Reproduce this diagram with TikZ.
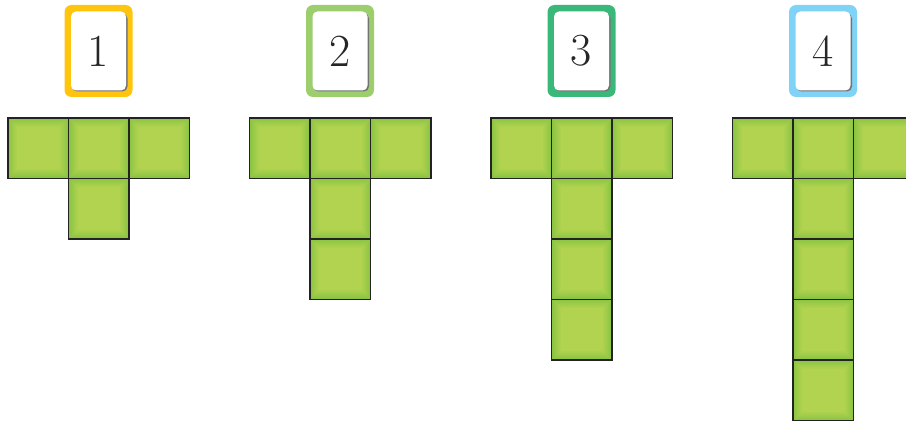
\documentclass[tikz,border=0pt]{standalone}
\usepackage{tikz}
\definecolor{sqedge}{RGB}{138,196,66}
\definecolor{sqmid}{RGB}{177,211,80}
\definecolor{cyellow}{RGB}{255,196,14}
\definecolor{clgreen}{RGB}{156,206,110}
\definecolor{cgreen}{RGB}{58,184,122}
\definecolor{cblue}{RGB}{126,211,246}
\definecolor{sqline}{RGB}{35,35,35}
\newcommand{\tsq}[2]{%
  \fill[sqedge] (#1,#2) rectangle (#1+60.5,#2+60.5);
  \foreach \i in {1,...,9}{%
    \pgfmathsetmacro\p{\i*11}%
    \fill[sqmid!\p!sqedge] (#1+\i,#2+\i) rectangle (#1+60.5-\i,#2+60.5-\i);
  }%
  \draw[sqline,line width=1.2] (#1,#2) rectangle (#1+60.5,#2+60.5);
}
\begin{document}
\begin{tikzpicture}[x=1pt,y=-1pt,
  cardframe/.style={rounded corners=7, minimum width=68, minimum height=92, inner sep=0},
  cardface/.style={rounded corners=5, fill=white, minimum width=55, minimum height=79, inner sep=0,
     font=\fontsize{46}{46}\selectfont, text=black!85}]
\useasboundingbox (0,0) rectangle (906,422);
\clip (0,0) rectangle (906,422);
% T shapes
\foreach \k/\n in {0/1,1/2,2/3,3/4}{%
  \pgfmathsetmacro\xo{8+241.5*\k}
  \tsq{\xo}{118}
  \tsq{\xo+60.5}{118}
  \tsq{\xo+121}{118}
  \foreach \j in {1,...,\n}{%
    \tsq{\xo+60.5}{118+60.5*\j}
  }
}
% cards
\foreach \k/\c in {0/cyellow,1/clgreen,2/cgreen,3/cblue}{%
  \pgfmathsetmacro\cx{98.5+241.5*\k}
  \node[cardframe, fill=\c] (frame\k) at (\cx,51) {};
  \fill[black!55, rounded corners=5] (\cx-26.5,13.5) rectangle (\cx+29,91.5);
}
\node[cardface] (card1) at (98.5,51) {1};
\node[cardface] (card2) at (340,51) {2};
\node[cardface] (card3) at (581.5,51) {3};
\node[cardface] (card4) at (823,51) {4};
\end{tikzpicture}
\end{document}
